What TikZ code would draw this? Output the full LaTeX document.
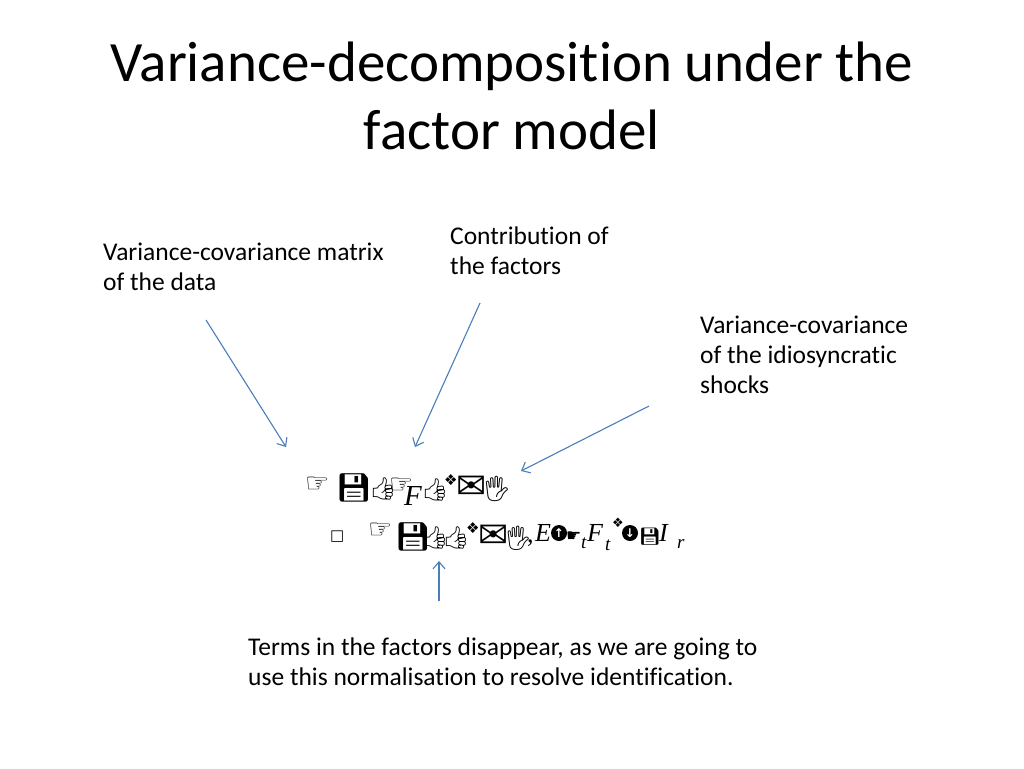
\documentclass[tikz,border=0pt]{standalone}
\usepackage{fontspec}
\setmainfont{Carlito}[Ligatures={NoCommon}]
\newfontfamily\dejavu{DejaVu Sans}
\newfontfamily\emojifont{Noto Emoji}
\newfontfamily\tnr{Liberation Serif}
\usetikzlibrary{arrows.meta}
\definecolor{arrowblue}{RGB}{74,126,187}
\newcommand{\fsz}[1]{\fontsize{#1}{#1}\selectfont}
\begin{document}
\begin{tikzpicture}[x=1pt,y=-1pt,
  lbl/.style={inner sep=0pt,anchor=base west,align=left,font=\fontsize{25.5}{30}\selectfont},
  gl/.style={inner sep=0pt,anchor=base west},
  circarrow/.style={circle,fill=black,inner sep=0pt,minimum size=16pt,text=white,font=\dejavu\fsz{12}\bfseries},
  pointer/.style={draw=arrowblue,line width=1.1pt,-{Straight Barb[length=7pt,width=12pt]}}]
\useasboundingbox[fill=white] (0,0) rectangle (1024,768);
% title
\node[inner sep=0pt,align=center,font=\fontsize{57}{68}\selectfont] (title) at (512,96)
  {Variance-decomposition under the\\factor model};
% labels (anchor = baseline of last line)
\node[lbl] (data) at (103,290) {Variance-covariance matrix\\of the data};
\node[lbl] (contrib) at (450,274) {Contribution of\\the factors};
\node[lbl] (idio) at (700,393) {Variance-covariance\\of the idiosyncratic\\shocks};
\node[lbl] (terms) at (248,685) {Terms in the factors disappear, as we are going to\\use this normalisation to resolve identification.};
% formula line 1
\node[gl,font=\dejavu\fsz{27}] (g11) at (305,492) {☞};
\node[gl,font=\emojifont\fsz{28}] (g12) at (336,497) {💾};
\node[gl,font=\emojifont\fsz{22}] (g13) at (369,496) {👍};
\node[gl,font=\dejavu\fsz{27}] (g14) at (389,493) {☞};
\node[gl,font=\tnr\itshape\fsz{29}] (g15) at (404,505) {F};
\node[gl,font=\emojifont\fsz{22}] (g16) at (421,497) {👍};
\node[gl,font=\dejavu\fsz{15}] (g17) at (444,485) {❖};
\node[gl,font=\dejavu\fsz{36}] (g18) at (456,498) {✉};
\node[gl,font=\emojifont\fsz{25}] (g19) at (481,497) {🖐};
% formula line 2
\node[gl,font=\dejavu\fsz{15}] (g20) at (330,540) {□};
\node[gl,font=\dejavu\fsz{27}] (g21) at (368,538) {☞};
\node[gl,font=\emojifont\fsz{28}] (g22) at (395,546) {💾};
\node[gl,font=\emojifont\fsz{22}] (g23) at (421,545) {👍};
\node[gl,font=\emojifont\fsz{22}] (g24) at (442,545) {👍};
\node[gl,font=\dejavu\fsz{15}] (g25) at (466,533) {❖};
\node[gl,font=\dejavu\fsz{36}] (g26) at (478,547) {✉};
\node[gl,font=\emojifont\fsz{24}] (g27) at (503,546) {🖐};
\node[gl,font=\tnr\fsz{26}] (g28) at (527,542) {,};
\node[gl,font=\tnr\itshape\fsz{26}] (g29) at (535,541) {E};
\node[circarrow] (g2a) at (559,533) {↑};
\node[gl,font=\dejavu\fsz{17}] (g2b) at (566,541) {☛};
\node[gl,font=\tnr\itshape\fsz{19}] (g2c) at (581,548) {t};
\node[gl,font=\tnr\itshape\fsz{26}] (g2d) at (587,541) {F};
\node[gl,font=\tnr\itshape\fsz{19}] (g2e) at (605,550) {t};
\node[gl,font=\dejavu\fsz{13}] (g2f) at (612,527) {❖};
\node[circarrow] (g2g) at (630,533) {↓};
\node[gl,font=\emojifont\fsz{17}] (g2h) at (639,542) {💾};
\node[gl,font=\tnr\itshape\fsz{26}] (g2i) at (659,541) {I};
\node[gl,font=\tnr\itshape\fsz{19}] (g2j) at (677,548) {r};
% connector end points
\coordinate (a1s) at (206,320); \coordinate (a1e) at (286,447);
\coordinate (a2s) at (480,303); \coordinate (a2e) at (415,447);
\coordinate (a3s) at (649,406); \coordinate (a3e) at (521,471);
\coordinate (a4s) at (439,601); \coordinate (a4e) at (439,561);
\draw[pointer] (a1s) -- (a1e);
\draw[pointer] (a2s) -- (a2e);
\draw[pointer] (a3s) -- (a3e);
\draw[pointer] (a4s) -- (a4e);
\end{tikzpicture}
\end{document}
